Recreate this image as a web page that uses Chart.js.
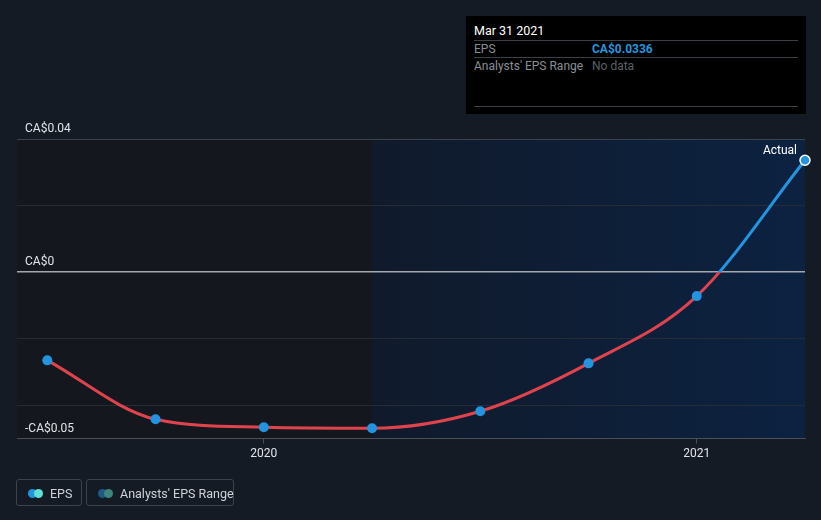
<!DOCTYPE html>
<html>
<head>
<meta charset="utf-8">
<script src="https://cdn.jsdelivr.net/npm/chart.js@4"></script>
<style>
  html, body { margin: 0; padding: 0; background: #151b24; }
  body { width: 821px; height: 520px; position: relative; overflow: hidden; font-family: Roboto, "Open Sans", sans-serif; }
  #wrap { position: absolute; left: 0; top: 0; width: 821px; height: 520px; }
  .tip { position: absolute; left: 466px; top: 16px; width: 340px; height: 98px; background: #000; font-size: 12px; }
  .tip .title { position: absolute; left: 8px; top: 7px; color: #fff; font-size: 12.5px; }
  .tip .row { position: absolute; left: 8px; width: 324px; height: 17px; border-top: 1px solid #3b3f46; }
  .tip .lab { position: absolute; left: 0; top: 1px; color: #8a8f97; }
  .tip .val { position: absolute; left: 118px; top: 1px; }
  .tip .end { position: absolute; left: 8px; top: 90px; width: 324px; border-top: 1px solid #3b3f46; }
  .legend { position: absolute; top: 479px; height: 27px; border: 1px solid #3e434b; border-radius: 3px; color: #cfd3d8; font-size: 12.5px; line-height: 27px; box-sizing: border-box; }
  .legend .dots { position: absolute; left: 11px; top: 9px; width: 16px; height: 9px; }
  .legend .dots i { position: absolute; top: 0; width: 9px; height: 9px; border-radius: 50%; }
  .legend span.t { position: absolute; left: 33px; top: 0; white-space: nowrap; }
</style>
</head>
<body>
<div id="wrap"><canvas id="chart" width="821" height="520"></canvas></div>

<div class="tip">
  <div class="title">Mar 31 2021</div>
  <div class="row" style="top:24px"><span class="lab">EPS</span><span class="val" style="color:#2394df;font-weight:bold">CA$0.0336</span></div>
  <div class="row" style="top:41px"><span class="lab">Analysts' EPS Range</span><span class="val" style="color:#5b6068">No data</span></div>
  <div class="end"></div>
</div>

<div class="legend" style="left:16px;width:66px">
  <div class="dots"><i style="left:0;background:#2394df"></i><i style="left:6px;background:#5fe0d6"></i></div>
  <span class="t">EPS</span>
</div>
<div class="legend" style="left:86px;width:148px">
  <div class="dots"><i style="left:0;background:#1f5a87"></i><i style="left:6px;background:#3e8580"></i></div>
  <span class="t">Analysts' EPS Range</span>
</div>

<script>
// periodos (fim de trimestre, em anos decimais)
const periodos = [2019.5, 2019.75, 2020.0, 2020.25, 2020.5, 2020.75, 2021.0, 2021.25];
const eps = [-0.0265, -0.0442, -0.0466, -0.0469, -0.0418, -0.0274, -0.0072, 0.0336];
const anosTicks = [2020, 2021];
const yTicks = [-0.05, -0.04, -0.02, 0, 0.02, 0.04];
const yRotulos = { '0.04': 'CA$0.04', '0': 'CA$0', '-0.05': '-CA$0.05' };
const inicioDestaque = 2020.25;

const AZUL = '#2394df';
const VERMELHO = '#e0434b';

// cor da linha: azul acima de zero, vermelho abaixo
function corLinha(context) {
    const chart = context.chart;
    const area = chart.chartArea;
    if (!area) return VERMELHO;
    const y0 = chart.scales.y.getPixelForValue(0);
    const g = chart.ctx.createLinearGradient(0, area.top, 0, area.bottom);
    const f = Math.min(1, Math.max(0, (y0 - area.top) / (area.bottom - area.top)));
    g.addColorStop(0, AZUL);
    g.addColorStop(f, AZUL);
    g.addColorStop(f, VERMELHO);
    g.addColorStop(1, VERMELHO);
    return g;
}

const fundo = {
    id: 'fundo',
    beforeDraw(chart) {
        const { ctx, chartArea: a, scales } = chart;
        ctx.save();
        ctx.fillStyle = '#151b24';
        ctx.fillRect(0, 0, chart.width, chart.height);
        const xd = scales.x.getPixelForValue(inicioDestaque);
        ctx.fillStyle = '#14171d';
        ctx.fillRect(a.left, a.top, xd - a.left, a.bottom - a.top);
        const g = ctx.createLinearGradient(xd, 0, a.right, 0);
        g.addColorStop(0, '#101a2b');
        g.addColorStop(1, '#0c2241');
        ctx.fillStyle = g;
        ctx.fillRect(xd, a.top, a.right - xd, a.bottom - a.top);
        ctx.restore();
    },
    afterDraw(chart) {
        const { ctx, chartArea: a } = chart;
        ctx.save();
        ctx.fillStyle = '#ffffff';
        ctx.font = '12px Roboto, sans-serif';
        ctx.textAlign = 'right';
        ctx.textBaseline = 'middle';
        ctx.fillText('Actual', a.right - 8, a.top + 12);
        ctx.restore();
    }
};

const config = {
    type: 'line',
    data: {
        datasets: [{
            label: 'EPS',
            data: periodos.map((p, i) => ({ x: p, y: eps[i] })),
            borderColor: corLinha,
            borderWidth: 3,
            cubicInterpolationMode: 'monotone',
            pointRadius: 5,
            pointBackgroundColor: AZUL,
            pointBorderColor: periodos.map((p, i) => i === periodos.length - 1 ? '#ffffff' : AZUL),
            pointBorderWidth: periodos.map((p, i) => i === periodos.length - 1 ? 1.5 : 0),
            fill: false,
            clip: false
        }]
    },
    options: {
        responsive: false,
        animation: false,
        layout: { padding: { left: 17, right: 16, top: 139, bottom: 56 } },
        plugins: { legend: { display: false }, tooltip: { enabled: false } },
        scales: {
            x: {
                type: 'linear',
                min: 2019.43,
                max: 2021.25,
                afterBuildTicks(axis) { axis.ticks = anosTicks.map(v => ({ value: v })); },
                ticks: { color: '#e2e5e9', font: { family: 'Roboto', size: 12 }, padding: 3, callback: v => String(v) },
                grid: { drawOnChartArea: false, drawTicks: true, tickLength: 5, color: '#4a4f58' },
                border: { color: '#4a4f58', width: 1 }
            },
            y: {
                min: -0.05,
                max: 0.04,
                afterBuildTicks(axis) { axis.ticks = yTicks.map(v => ({ value: v })); },
                afterFit(axis) { axis.width = 0; },
                ticks: {
                    mirror: true,
                    padding: 8,
                    labelOffset: -10,
                    color: '#e2e5e9',
                    font: { family: 'Roboto', size: 12 },
                    callback: v => yRotulos[String(Math.round(v * 100) / 100)] || ''
                },
                grid: {
                    drawTicks: false,
                    lineWidth: ctx => ctx.tick && ctx.tick.value === 0 ? 1.5 : 1,
                    color: ctx => {
                        const v = ctx.tick ? Math.round(ctx.tick.value * 100) / 100 : null;
                        if (v === 0) return '#a3a8af';
                        if (v === 0.04) return '#3d434d';
                        if (v === -0.05) return 'rgba(0,0,0,0)';
                        return '#262c36';
                    }
                },
                border: { display: false }
            }
        }
    },
    plugins: [fundo]
};

new Chart(document.getElementById('chart'), config);
</script>
</body>
</html>
